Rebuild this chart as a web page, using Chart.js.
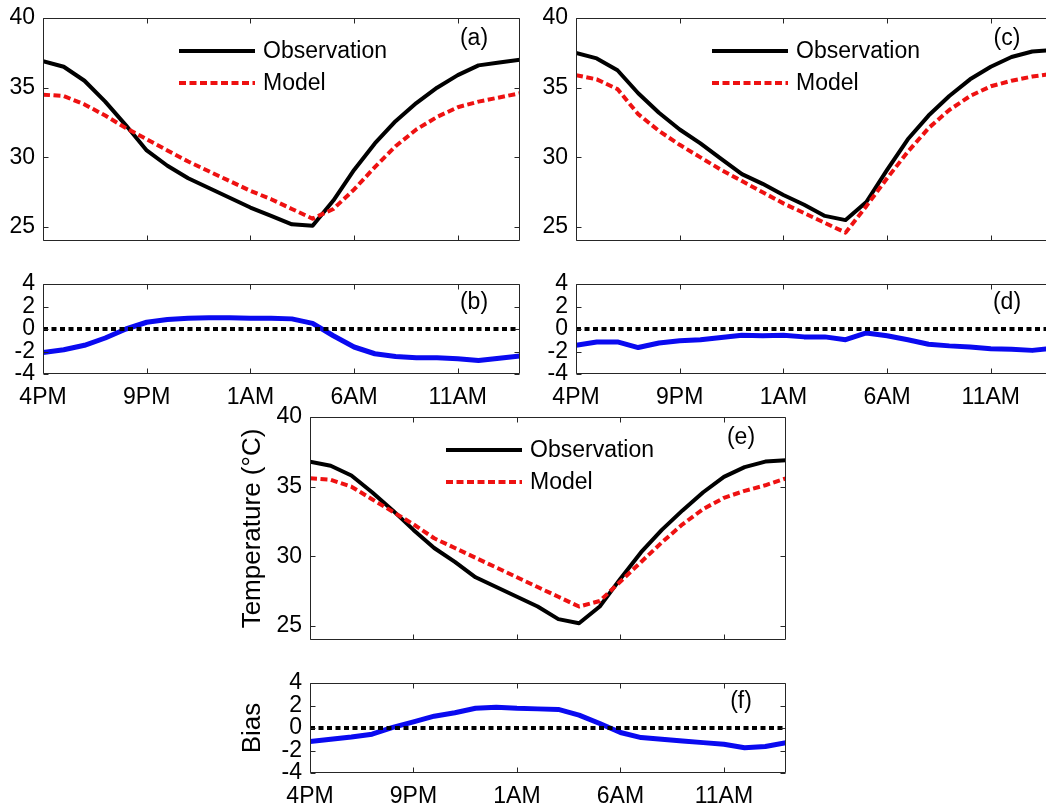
<!DOCTYPE html>
<html><head><meta charset="utf-8">
<script src="https://cdn.jsdelivr.net/npm/chart.js@4.4.1/dist/chart.umd.min.js"></script>
<style>
html,body{margin:0;padding:0;background:#fff;width:1046px;height:807px;overflow:hidden;position:relative}
canvas{position:absolute}
</style></head><body>
<canvas id="pa"></canvas><canvas id="pb"></canvas><canvas id="pc"></canvas>
<canvas id="pd"></canvas><canvas id="pe"></canvas><canvas id="pf"></canvas>
<script>
// ---- data ----
const hours = [0,1,2,3,4,5,6,7,8,9,10,11,12,13,14,15,16,17,18,19,20,21,22,23];
const xTickValues = [0,5,10,15,20];
const xTickLabels = ['4PM','9PM','1AM','6AM','11AM'];
const tempTicks = [25,30,35,40];
const biasTicks = [-4,-2,0,2,4];
const zeroX = [0, 23];
const zeroY = [0, 0];

const obsA   = [36.9,36.5,35.5,34.0,32.3,30.5,29.4,28.5,27.8,27.1,26.4,25.8,25.2,25.1,26.9,29.1,31.0,32.6,33.9,35.0,35.9,36.6,36.8,37.0];
const modelA = [34.5,34.4,33.8,33.0,32.1,31.3,30.5,29.7,29.0,28.3,27.6,27.0,26.3,25.6,26.3,27.7,29.3,30.8,32.0,32.9,33.6,34.0,34.3,34.6];
const biasB  = [-2.1,-1.85,-1.45,-0.8,0.0,0.6,0.85,0.95,1.0,1.0,0.95,0.95,0.9,0.5,-0.6,-1.6,-2.2,-2.45,-2.55,-2.55,-2.65,-2.8,-2.6,-2.4];

const obsC   = [37.5,37.1,36.25,34.6,33.2,32.0,31.0,29.9,28.8,28.1,27.3,26.6,25.8,25.5,26.8,29.1,31.3,33.0,34.4,35.6,36.5,37.2,37.6,37.7];
const modelC = [35.9,35.6,34.9,33.1,31.9,30.9,30.0,29.1,28.3,27.5,26.7,26.0,25.3,24.6,26.5,28.5,30.4,32.1,33.4,34.4,35.1,35.5,35.8,36.0];
const biasD  = [-1.45,-1.15,-1.15,-1.65,-1.25,-1.05,-0.95,-0.75,-0.55,-0.6,-0.55,-0.7,-0.7,-0.95,-0.35,-0.6,-0.95,-1.35,-1.5,-1.6,-1.75,-1.8,-1.9,-1.7];

const obsE   = [36.8,36.5,35.8,34.6,33.3,31.9,30.6,29.6,28.5,27.8,27.1,26.4,25.5,25.2,26.4,28.4,30.3,31.9,33.3,34.6,35.7,36.4,36.8,36.9];
const modelE = [35.6,35.5,35.0,34.1,33.2,32.3,31.3,30.6,29.9,29.2,28.5,27.8,27.1,26.4,26.8,28.2,29.6,31.0,32.3,33.4,34.2,34.7,35.1,35.6];
const biasF  = [-1.2,-1.0,-0.8,-0.55,0.05,0.55,1.05,1.35,1.75,1.85,1.75,1.7,1.65,1.15,0.4,-0.4,-0.85,-1.0,-1.15,-1.3,-1.45,-1.75,-1.65,-1.3];

// ---- style ----
const FONT = "'Liberation Sans', Arial, sans-serif";
Chart.defaults.font.family = FONT;
Chart.defaults.color = '#000';
const RED = '#ee1111', BLUE = '#0a0af0', BLACK = '#000000', AXIS = '#262626';
const TICK_FONT = 23;

const decoPlugin = {
  id: 'panelDeco',
  afterDatasetsDraw(chart, args, opts) {
    const {ctx, chartArea: ca, scales} = chart;
    const xs = scales.x, ys = scales.y;
    ctx.save();
    ctx.setLineDash([]);
    ctx.strokeStyle = AXIS; ctx.lineWidth = 1;
    const l = Math.round(ca.left) + 0.5, r = Math.round(ca.right) - 0.5;
    const t = Math.round(ca.top) + 0.5, b = Math.round(ca.bottom) - 0.5;
    ctx.beginPath();
    ctx.rect(l, t, r - l, b - t);
    xs.ticks.forEach(tk => {
      const px = Math.round(xs.getPixelForValue(tk.value)) + 0.5;
      ctx.moveTo(px, b); ctx.lineTo(px, b - 5);
      ctx.moveTo(px, t); ctx.lineTo(px, t + 5);
    });
    ys.ticks.forEach(tk => {
      const py = Math.round(ys.getPixelForValue(tk.value)) + 0.5;
      ctx.moveTo(l, py); ctx.lineTo(l + 5, py);
      ctx.moveTo(r, py); ctx.lineTo(r - 5, py);
    });
    ctx.stroke();
    ctx.font = TICK_FONT + 'px ' + FONT;
    ctx.fillStyle = '#000';
    ctx.textBaseline = 'middle';
    if (opts.legend) {
      const items = [
        {text: 'Observation', color: BLACK, dash: [], dy: 33},
        {text: 'Model', color: RED, dash: [7, 3.5], dy: 65}
      ];
      items.forEach(it => {
        ctx.beginPath();
        ctx.setLineDash(it.dash);
        ctx.lineCap = 'butt';
        ctx.strokeStyle = it.color;
        ctx.lineWidth = 4;
        ctx.moveTo(ca.left + 136, ca.top + it.dy);
        ctx.lineTo(ca.left + 212, ca.top + it.dy);
        ctx.stroke();
        ctx.setLineDash([]);
        ctx.textAlign = 'left';
        ctx.fillText(it.text, ca.left + 220, ca.top + it.dy + 1);
      });
    }
    if (opts.letter) {
      ctx.textAlign = 'center';
      ctx.fillText(opts.letter, ca.left + 431, ca.top + opts.letterDy);
    }
    ctx.restore();
  }
};

function pts(ys) { return hours.map((h, i) => ({x: h, y: ys[i]})); }
function zeroPts() { return zeroX.map((x, i) => ({x: x, y: zeroY[i]})); }

function tempSets(obs, model) {
  return [
    {label: 'Observation', data: pts(obs), borderColor: BLACK, borderWidth: 4, order: 2},
    {label: 'Model', data: pts(model), borderColor: RED, borderWidth: 4, borderDash: [7, 3.5], order: 1}
  ];
}
function biasSets(bias) {
  return [
    {label: 'Bias', data: pts(bias), borderColor: BLUE, borderWidth: 5, order: 2},
    {label: 'Zero', data: zeroPts(), borderColor: BLACK, borderWidth: 4, borderDash: [5, 3.5], order: 1}
  ];
}

function makePanel(id, p) {
  const el = document.getElementById(id);
  const cw = p.ML + p.W + p.MR, chh = p.MT + p.H + p.MB;
  el.width = cw; el.height = chh;
  el.style.left = (p.L - p.ML) + 'px';
  el.style.top = (p.T - p.MT) + 'px';
  el.style.width = cw + 'px'; el.style.height = chh + 'px';
  return new Chart(el, {
    type: 'line',
    data: {datasets: p.datasets},
    plugins: [decoPlugin],
    options: {
      responsive: false, animation: false, devicePixelRatio: 1,
      layout: {padding: {top: p.MT, right: p.MR, left: 0, bottom: 0}},
      elements: {point: {radius: 0}, line: {tension: 0, borderJoinStyle: 'round', fill: false}},
      plugins: {
        legend: {display: false}, tooltip: {enabled: false},
        panelDeco: {legend: p.legend, letter: p.letter, letterDy: p.letterDy}
      },
      scales: {
        x: {
          type: 'linear', min: 0, max: 23,
          grid: {display: false, drawTicks: false}, border: {display: false},
          afterBuildTicks: s => { s.ticks = xTickValues.map(v => ({value: v})); },
          afterFit: s => { s.height = p.MB; s.paddingLeft = 0; s.paddingRight = 0; },
          ticks: {display: p.showX, padding: 10, autoSkip: false, maxRotation: 0,
                  font: {size: TICK_FONT}, color: '#000',
                  callback: (v, i) => xTickLabels[i]}
        },
        y: {
          type: 'linear', min: p.yMin, max: p.yMax,
          grid: {display: false, drawTicks: false}, border: {display: false},
          afterBuildTicks: s => { s.ticks = p.yTicks.map(v => ({value: v})); },
          afterFit: s => { s.width = p.ML; s.paddingTop = 0; s.paddingBottom = 0; },
          ticks: {padding: 8, autoSkip: false, font: {size: TICK_FONT}, color: '#000'},
          title: p.yTitle ? {display: true, text: p.yTitle, font: {size: 26}, color: '#000',
                             padding: {top: 7, bottom: 0}} : {display: false}
        }
      }
    }
  });
}

makePanel('pa', {L: 43, T: 18, W: 477, H: 223, ML: 43, MT: 18, MR: 12, MB: 10,
  datasets: tempSets(obsA, modelA), yMin: 24, yMax: 40, yTicks: tempTicks,
  showX: false, legend: true, letter: '(a)', letterDy: 21});
makePanel('pb', {L: 43, T: 284, W: 477, H: 90, ML: 43, MT: 16, MR: 12, MB: 36,
  datasets: biasSets(biasB), yMin: -4, yMax: 4, yTicks: biasTicks,
  showX: true, legend: false, letter: '(b)', letterDy: 19});
makePanel('pc', {L: 576, T: 18, W: 477, H: 223, ML: 43, MT: 18, MR: 12, MB: 10,
  datasets: tempSets(obsC, modelC), yMin: 24, yMax: 40, yTicks: tempTicks,
  showX: false, legend: true, letter: '(c)', letterDy: 21});
makePanel('pd', {L: 576, T: 284, W: 477, H: 90, ML: 43, MT: 16, MR: 12, MB: 36,
  datasets: biasSets(biasD), yMin: -4, yMax: 4, yTicks: biasTicks,
  showX: true, legend: false, letter: '(d)', letterDy: 19});
makePanel('pe', {L: 310, T: 417, W: 476, H: 223, ML: 80, MT: 16, MR: 12, MB: 10,
  datasets: tempSets(obsE, modelE), yMin: 24, yMax: 40, yTicks: tempTicks,
  showX: false, legend: true, letter: '(e)', letterDy: 21, yTitle: 'Temperature (\u00B0C)'});
makePanel('pf', {L: 310, T: 683, W: 476, H: 90, ML: 80, MT: 14, MR: 12, MB: 36,
  datasets: biasSets(biasF), yMin: -4, yMax: 4, yTicks: biasTicks,
  showX: true, legend: false, letter: '(f)', letterDy: 19, yTitle: 'Bias'});
</script>
</body></html>
